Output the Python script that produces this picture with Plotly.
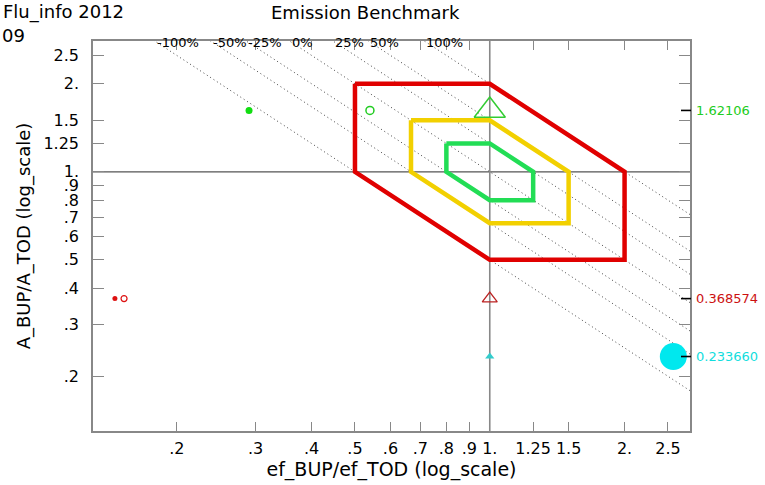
import numpy as np
import plotly.graph_objects as go

# ---------------- data ----------------
x_range = [0.13, 2.8]
y_range = [0.13, 2.8]

tick_vals = [0.2, 0.3, 0.4, 0.5, 0.6, 0.7, 0.8, 0.9, 1.0, 1.25, 1.5, 2.0, 2.5]
tick_text = ['.2', '.3', '.4', '.5', '.6', '.7', '.8', '.9', '1.', '1.25', '1.5', '2.', '2.5']

# emission benchmark lines: constant product x*y
bench_ratio = [0.5, 0.667, 0.8, 1.0, 1.25, 1.5, 2.0]
bench_label = ['-100%', '-50%', '-25%', '0%', '25%', '50%', '100%']

# benchmark hexagons
hex_red_x = [0.5, 1.0, 2.0, 2.0, 1.0, 0.5, 0.5]
hex_red_y = [2.0, 2.0, 1.0, 0.5, 0.5, 1.0, 2.0]
hex_yel_x = [0.667, 1.0, 1.5, 1.5, 1.0, 0.667, 0.667]
hex_yel_y = [1.5, 1.5, 1.0, 0.667, 0.667, 1.0, 1.5]
hex_grn_x = [0.8, 1.0, 1.25, 1.25, 1.0, 0.8, 0.8]
hex_grn_y = [1.25, 1.25, 1.0, 0.8, 0.8, 1.0, 1.25]

# reference cross lines
ref_one = [1.0, 1.0]

# points
green_y = 1.62106
red_y = 0.368574
cyan_y = 0.23366
green_dot_x = 0.29
green_circ_x = 0.54
green_tri_x = 1.0
red_dot_x = 0.1455
red_circ_x = 0.1525
red_tri_x = 1.0
cyan_dot_x = 2.57
cyan_tri_x = 1.0

right_vals = [green_y, red_y, cyan_y]
right_text = ['1.62106', '0.368574', '0.233660']
right_cols = ['#22cc22', '#cc1111', '#11dddd']

# ---------------- figure ----------------
W, H = 765, 485
L, R, T, B = 93, 75, 41, 50
pw, ph = W - L - R, H - T - B

def px2paper_x(px):
    return (px - L) / pw

def px2paper_y(py):
    return (H - B - py) / ph

fig = go.Figure()

# dotted benchmark lines
for c in bench_ratio:
    xs = [x_range[0], x_range[1]]
    ys = [c / x_range[0], c / x_range[1]]
    fig.add_trace(go.Scatter(x=xs, y=ys, mode='lines',
                             line=dict(color='#444444', width=1, dash='1px,3px'),
                             hoverinfo='skip', showlegend=False))

# reference lines at 1
fig.add_trace(go.Scatter(x=x_range, y=ref_one, mode='lines',
                         line=dict(color='#555555', width=1.2), showlegend=False))
fig.add_trace(go.Scatter(x=ref_one, y=y_range, mode='lines',
                         line=dict(color='#888888', width=1.6), showlegend=False))

# hexagons
fig.add_trace(go.Scatter(x=hex_red_x, y=hex_red_y, mode='lines',
                         line=dict(color='#e00000', width=4.5), showlegend=False))
fig.add_trace(go.Scatter(x=hex_yel_x, y=hex_yel_y, mode='lines',
                         line=dict(color='#f2d000', width=4.5), showlegend=False))
fig.add_trace(go.Scatter(x=hex_grn_x, y=hex_grn_y, mode='lines',
                         line=dict(color='#22dd55', width=4.5), showlegend=False))

# markers
fig.add_trace(go.Scatter(x=[green_dot_x], y=[green_y], mode='markers',
                         marker=dict(symbol='circle', size=7, color='#11dd11'), showlegend=False))
fig.add_trace(go.Scatter(x=[green_circ_x], y=[green_y], mode='markers',
                         marker=dict(symbol='circle-open', size=8, color='#22cc22',
                                     line=dict(width=1.5, color='#22cc22')), showlegend=False))
fig.add_trace(go.Scatter(x=[green_tri_x], y=[green_y], mode='markers',
                         marker=dict(symbol='triangle-up-open', size=27, color='#33cc33',
                                     line=dict(width=1.5, color='#33cc33')), showlegend=False))
fig.add_trace(go.Scatter(x=[red_dot_x], y=[red_y], mode='markers',
                         marker=dict(symbol='circle', size=5, color='#dd1111'), showlegend=False))
fig.add_trace(go.Scatter(x=[red_circ_x], y=[red_y], mode='markers',
                         marker=dict(symbol='circle-open', size=6, color='#dd1111',
                                     line=dict(width=1.2, color='#dd1111')), showlegend=False))
fig.add_trace(go.Scatter(x=[red_tri_x], y=[red_y], mode='markers',
                         marker=dict(symbol='triangle-up-open', size=13, color='#bb2222',
                                     line=dict(width=1.3, color='#bb2222')), showlegend=False))
fig.add_trace(go.Scatter(x=[cyan_dot_x], y=[cyan_y], mode='markers',
                         marker=dict(symbol='circle', size=27, color='#00e8ee'), showlegend=False))
fig.add_trace(go.Scatter(x=[cyan_tri_x], y=[cyan_y], mode='markers',
                         marker=dict(symbol='triangle-up', size=8, color='#33cccc'), showlegend=False))

axis_common = dict(
    type='log', showgrid=False, zeroline=False,
    showline=True, linecolor='#888888', linewidth=1.5, mirror='ticks',
    ticks='inside', tickcolor='#888888', tickwidth=1.3,
    tickvals=tick_vals, ticktext=tick_text,
    tickfont=dict(family='DejaVu Sans', size=16, color='black'),
)

fig.update_layout(
    width=W, height=H,
    margin=dict(l=L, r=R, t=T, b=B),
    paper_bgcolor='white', plot_bgcolor='white',
    showlegend=False,
    xaxis=dict(axis_common, range=[np.log10(x_range[0]), np.log10(x_range[1])],
               ticklen=9, ticklabelstandoff=2,
               title=dict(text='ef_BUP/ef_TOD (log_scale)', standoff=2,
                          font=dict(family='DejaVu Sans', size=19, color='black'))),
    yaxis=dict(axis_common, range=[np.log10(y_range[0]), np.log10(y_range[1])],
               ticklen=11, ticklabelstandoff=9,
               title=dict(text='A_BUP/A_TOD (log_scale)', standoff=8,
                          font=dict(family='DejaVu Sans', size=18, color='black'))),
)

# benchmark % labels at top of plot, starting at each line's top intercept
for c, lab in zip(bench_ratio, bench_label):
    fig.add_annotation(x=np.log10(c / y_range[1]), xref='x', y=px2paper_y(43), yref='paper',
                       text=lab, showarrow=False, xanchor='left', yanchor='middle',
                       font=dict(family='DejaVu Sans', size=13, color='black'))

# right side value labels + black ticks
for v, t, col in zip(right_vals, right_text, right_cols):
    fig.add_annotation(x=px2paper_x(694), xref='paper', y=np.log10(v), yref='y',
                       text=t, showarrow=False, xanchor='left', yanchor='middle',
                       font=dict(family='DejaVu Sans', size=13, color=col))
    fig.add_shape(type='line', xref='paper', yref='y',
                  x0=px2paper_x(681), x1=px2paper_x(691), y0=v, y1=v,
                  line=dict(color='black', width=1.6))

# titles
fig.add_annotation(x=px2paper_x(365), xref='paper', y=px2paper_y(12), yref='paper',
                   text='Emission Benchmark', showarrow=False, xanchor='center', yanchor='middle',
                   font=dict(family='DejaVu Sans', size=18, color='black'))
fig.add_annotation(x=px2paper_x(1), xref='paper', y=px2paper_y(12), yref='paper',
                   text='Flu_info 2012', showarrow=False, xanchor='left', yanchor='middle',
                   font=dict(family='DejaVu Sans', size=18, color='black'))
fig.add_annotation(x=px2paper_x(0), xref='paper', y=px2paper_y(35), yref='paper',
                   text='09', showarrow=False, xanchor='left', yanchor='middle',
                   font=dict(family='DejaVu Sans', size=18, color='black'))

fig.write_html('out.html')
